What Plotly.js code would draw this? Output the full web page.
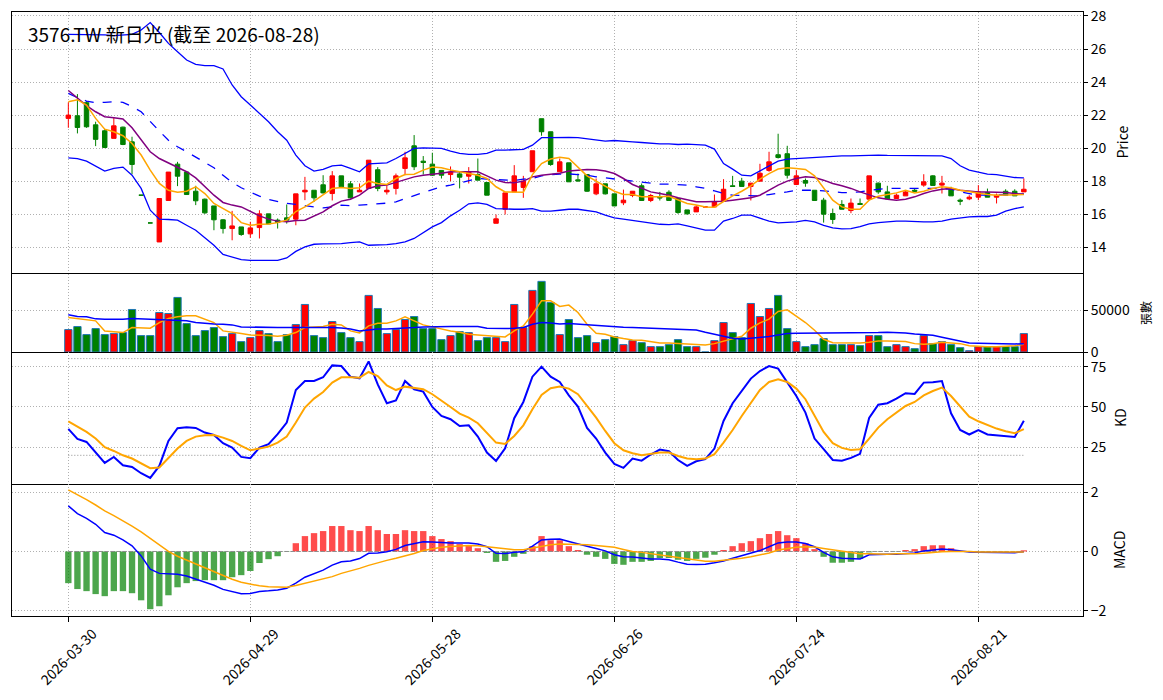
<!DOCTYPE html>
<html>
<head>
<meta charset="utf-8">
<script src="https://cdn.plot.ly/plotly-3.0.1.min.js"></script>
<style>
html,body{margin:0;padding:0;background:#fff;}
#chart{width:1163px;height:700px;}
</style>
</head>
<body>
<div id="chart"></div>
<script>
const dates = ['2026-03-30','2026-03-31','2026-04-01','2026-04-02','2026-04-07','2026-04-08','2026-04-09','2026-04-10','2026-04-13','2026-04-14',
'2026-04-15','2026-04-16','2026-04-17','2026-04-20','2026-04-21','2026-04-22','2026-04-23','2026-04-24','2026-04-27','2026-04-28',
'2026-04-29','2026-04-30','2026-05-04','2026-05-05','2026-05-06','2026-05-07','2026-05-08','2026-05-11','2026-05-12','2026-05-13',
'2026-05-14','2026-05-15','2026-05-18','2026-05-19','2026-05-20','2026-05-21','2026-05-22','2026-05-25','2026-05-26','2026-05-27',
'2026-05-28','2026-05-29','2026-06-01','2026-06-02','2026-06-03','2026-06-04','2026-06-05','2026-06-08','2026-06-09','2026-06-10',
'2026-06-11','2026-06-12','2026-06-15','2026-06-16','2026-06-17','2026-06-18','2026-06-22','2026-06-23','2026-06-24','2026-06-25',
'2026-06-26','2026-06-29','2026-06-30','2026-07-01','2026-07-02','2026-07-03','2026-07-06','2026-07-07','2026-07-08','2026-07-09',
'2026-07-10','2026-07-13','2026-07-14','2026-07-15','2026-07-16','2026-07-17','2026-07-20','2026-07-21','2026-07-22','2026-07-23',
'2026-07-24','2026-07-27','2026-07-28','2026-07-29','2026-07-30','2026-07-31','2026-08-03','2026-08-04','2026-08-05','2026-08-06',
'2026-08-07','2026-08-10','2026-08-11','2026-08-12','2026-08-13','2026-08-14','2026-08-17','2026-08-18','2026-08-19','2026-08-20',
'2026-08-21','2026-08-24','2026-08-25','2026-08-26','2026-08-27','2026-08-28'];

const openPrice = [21.8,21.96,22.75,21.41,21.05,20.59,21.27,20.38,17.15,15.47,
14.32,16.83,19.03,18.55,17.39,16.91,16.5,15.66,15.13,15.23,
14.81,15.19,16.02,15.64,15.78,15.7,17.35,17.45,17.78,17.25,
18.32,17.84,17.35,17.56,18.69,17.35,17.56,18.77,20.14,19.21,
19.03,18.65,18.4,18.44,18.3,18.4,17.92,15.45,16.3,17.35,
17.62,18.57,21.78,20.99,18.57,19.11,18.08,18.4,17.23,17.84,
17.23,16.69,17.13,17.72,16.83,17.03,17.33,16.95,16.26,16.14,
16.44,16.44,16.79,17.72,18.0,17.68,18.0,18.65,19.6,19.66,
17.8,18.04,17.45,16.85,16.04,16.59,16.22,16.65,16.91,17.88,
17.35,16.95,17.11,17.45,17.76,18.32,17.76,17.51,16.85,16.93,
17.03,17.31,17.03,17.39,17.39,17.35];
const highPrice = [22.77,23.27,22.85,21.6,21.15,21.84,21.3,20.69,17.15,15.47,
16.95,18.55,19.17,18.6,17.72,16.95,16.5,15.7,16.2,15.23,
15.54,16.24,16.02,15.74,16.59,17.23,18.26,17.45,18.36,18.61,
18.32,18.0,17.86,19.27,18.85,17.76,18.46,19.78,20.79,19.52,
19.72,18.65,18.89,18.57,18.85,19.37,17.92,15.98,17.29,18.97,
18.32,19.84,21.78,20.99,19.37,19.11,18.46,18.4,18.16,17.84,
17.23,17.49,17.39,17.86,17.23,17.35,17.45,17.01,16.26,16.55,
16.44,17.19,18.12,18.32,18.2,17.88,19.05,19.78,20.87,20.14,
18.67,18.16,17.45,16.99,16.34,16.85,16.95,16.95,18.32,17.92,
17.72,17.25,17.43,17.55,18.42,18.36,18.32,17.66,16.95,17.15,
17.76,17.55,17.25,17.51,17.51,18.16];
const lowPrice = [21.23,20.89,21.23,20.12,20.0,20.59,20.18,18.42,17.15,15.47,
14.32,16.83,17.7,17.19,16.55,16.02,15.03,14.83,14.42,14.69,
14.57,14.53,15.41,15.13,15.43,15.33,16.85,16.75,17.25,16.83,
17.66,16.95,17.35,17.56,17.39,17.19,17.19,18.36,18.67,18.4,
18.32,18.16,18.0,17.56,17.86,18.06,17.15,15.45,15.98,17.35,
16.99,18.57,20.75,18.93,18.57,17.96,17.96,17.35,17.15,17.19,
16.5,16.55,17.03,16.83,16.73,16.83,16.83,16.02,15.98,16.14,
16.44,16.44,16.79,17.68,17.68,16.83,18.0,18.57,19.37,18.16,
17.76,17.66,16.83,15.49,15.41,16.3,16.06,16.59,16.83,17.23,
16.93,16.95,17.11,17.35,17.66,17.74,17.25,17.11,16.55,16.85,
16.85,17.03,16.65,17.11,17.11,17.35];
const closePrice = [22.0,21.25,21.29,20.53,20.04,21.35,20.22,19.01,17.15,15.47,
16.95,18.55,18.3,17.19,16.81,16.08,15.66,15.13,15.29,14.77,
15.17,16.02,15.41,15.5,15.64,17.23,17.45,16.99,17.29,18.32,
17.66,16.99,17.45,19.27,17.56,17.45,18.32,19.41,18.87,19.13,
18.36,18.36,18.55,18.24,18.57,18.06,17.15,15.72,17.29,18.32,
18.0,19.84,20.99,19.01,19.17,17.96,18.02,17.39,17.84,17.23,
16.5,16.85,17.39,16.83,17.13,16.99,16.83,16.1,16.02,16.44,
16.44,16.75,17.51,17.68,17.68,17.88,18.48,19.17,19.43,18.36,
18.32,17.88,16.83,16.0,15.68,16.3,16.67,16.59,18.32,17.35,
16.93,17.15,17.35,17.39,17.96,17.74,17.88,17.11,16.79,17.03,
17.35,17.03,17.15,17.15,17.11,17.51];

const volume = [26800,30400,20800,28000,20800,22000,23200,50800,19600,19600,
47200,46000,65200,34000,19600,25600,29200,18400,22000,12400,
17200,25600,22000,12400,20800,32800,56800,19600,17200,36400,
23200,17200,12400,67600,52000,22000,26800,38800,42400,28000,
28000,14800,19600,24400,23200,13600,17200,17200,12400,56800,
29200,73600,84400,59200,20800,38800,17200,19600,11200,14800,
18400,8800,13600,11200,6400,6400,8800,14800,6400,6400,
0,13600,35200,23200,17200,58000,42400,52000,67600,28000,
12400,6400,8800,16000,8800,8800,8800,7600,19600,19600,
6400,8800,6400,4000,19600,10000,12400,8800,5200,1600,
6400,6400,6400,6400,6400,22000];

const ma5 = [22.81,22.93,22.61,21.8,21.15,20.99,20.75,20.28,19.58,18.67,
17.86,17.45,17.33,17.39,17.66,17.25,16.65,16.34,16.04,15.49,
15.33,15.39,15.41,15.49,15.64,16.16,16.44,16.79,17.19,17.56,
17.62,17.56,17.6,18.0,17.86,17.8,18.16,18.4,18.42,18.67,
18.85,18.81,18.67,18.57,18.44,18.36,18.16,17.66,17.35,17.35,
17.33,18.4,19.07,19.34,19.45,19.37,18.87,18.32,18.0,17.72,
17.39,17.19,17.19,17.05,17.03,17.05,17.09,16.85,16.65,16.55,
16.44,16.42,16.79,17.11,17.39,17.72,18.12,18.46,18.73,18.81,
18.77,18.71,18.32,17.56,16.85,16.44,16.3,16.3,16.85,17.09,
17.19,17.29,17.45,17.29,17.39,17.56,17.66,17.6,17.45,17.35,
17.25,17.19,17.15,17.15,17.15,17.19];
const ma10 = [23.49,23.05,22.57,22.2,21.9,21.84,21.76,21.23,20.48,19.78,
19.37,19.11,18.87,18.57,18.2,17.66,17.15,16.71,16.55,16.44,
16.18,15.9,15.7,15.58,15.54,15.62,15.64,15.9,16.14,16.51,
16.79,16.91,17.15,17.56,17.72,17.76,17.92,18.12,18.26,18.36,
18.4,18.48,18.57,18.57,18.61,18.57,18.32,18.06,17.92,17.9,
18.0,18.26,18.36,18.4,18.48,18.61,18.67,18.71,18.69,18.61,
18.46,18.16,17.8,17.56,17.35,17.25,17.15,16.99,16.85,16.75,
16.75,16.75,16.79,16.85,16.91,16.99,17.15,17.45,17.76,18.0,
18.16,18.26,18.22,18.06,17.86,17.72,17.56,17.35,17.15,16.99,
16.91,16.85,16.91,17.05,17.25,17.41,17.51,17.56,17.45,17.39,
17.35,17.35,17.35,17.31,17.25,17.21];
const ma20 = [23.31,23.05,22.85,22.75,22.77,22.81,22.77,22.51,22.2,21.6,
21.03,20.48,20.08,19.78,19.47,19.17,18.81,18.36,17.92,17.6,
17.35,17.09,16.89,16.75,16.65,16.6,16.51,16.44,16.38,16.44,
16.55,16.51,16.55,16.59,16.61,16.67,16.75,16.95,17.15,17.31,
17.49,17.66,17.76,17.9,18.06,18.16,18.12,18.1,18.06,18.04,
18.12,18.16,18.32,18.4,18.42,18.44,18.4,18.36,18.26,18.2,
18.12,18.06,18.0,17.92,17.86,17.82,17.82,17.8,17.76,17.66,
17.56,17.41,17.25,17.15,17.13,17.11,17.11,17.19,17.25,17.35,
17.45,17.47,17.45,17.41,17.35,17.31,17.31,17.35,17.45,17.51,
17.56,17.56,17.56,17.56,17.56,17.56,17.56,17.51,17.35,17.25,
17.15,17.15,17.15,17.15,17.19,17.25];
const bbUpper = [26.89,26.89,26.85,26.85,26.85,26.81,26.85,26.89,27.15,27.6,
27.0,26.34,25.84,25.33,25.07,24.99,24.99,24.79,23.82,23.11,
22.61,22.1,21.6,20.99,20.48,19.58,18.93,18.61,18.71,18.93,
18.97,18.77,18.57,19.05,19.07,19.11,19.37,19.68,19.98,20.02,
20.02,19.98,19.82,19.68,19.62,19.62,19.68,19.88,19.88,19.88,
19.92,20.18,20.63,20.63,20.65,20.65,20.63,20.55,20.48,20.42,
20.46,20.44,20.38,20.34,20.28,20.26,20.26,20.22,20.24,20.22,
20.18,19.94,19.07,18.73,18.36,18.32,18.61,18.93,19.21,19.33,
19.37,19.41,19.45,19.47,19.51,19.53,19.53,19.56,19.58,19.58,
19.56,19.56,19.56,19.56,19.56,19.56,19.53,19.37,18.93,18.67,
18.53,18.42,18.4,18.32,18.22,18.2];
const bbLower = [19.41,19.37,19.21,18.93,18.61,18.77,18.85,18.36,17.56,16.24,
15.7,15.68,15.64,15.33,15.03,14.57,14.12,13.56,13.41,13.25,
13.21,13.21,13.21,13.21,13.35,13.75,14.02,14.18,14.2,14.2,
14.22,14.28,14.32,14.12,14.12,14.16,14.22,14.32,14.53,14.89,
15.23,15.49,15.9,16.24,16.63,16.69,16.59,16.34,16.3,16.3,
16.3,16.34,16.18,16.18,16.24,16.3,16.3,16.22,16.14,15.94,
15.78,15.7,15.62,15.54,15.43,15.39,15.37,15.41,15.29,15.17,
15.03,15.03,15.58,15.74,15.94,15.94,15.78,15.58,15.47,15.49,
15.54,15.62,15.54,15.33,15.17,15.11,15.13,15.25,15.41,15.49,
15.54,15.58,15.58,15.54,15.54,15.54,15.58,15.7,15.78,15.84,
15.86,15.86,15.94,16.18,16.34,16.44];

const volMa5 = [41200,39600,38400,37200,25200,24400,23200,29200,28400,28400,
35200,40000,42000,43200,43200,39200,35200,25200,23200,22000,
20400,20400,19600,18800,20000,23200,29200,30000,30400,33200,
32400,25200,22800,31200,34400,34400,37200,42000,37200,32400,
30000,27200,25200,23600,21200,20400,19600,19200,18000,25200,
31200,45200,61200,61200,54400,56000,47200,33200,22400,21200,
18000,16000,14400,14000,12400,10800,10800,10400,10000,9200,
8400,10000,13200,16400,18800,28400,34800,39200,48400,50400,
42800,35200,26000,15200,11200,10800,10800,10800,11600,13200,
13200,12800,12400,10000,9200,10000,11600,10800,10000,7600,
6800,6400,6400,6800,7600,9200];
const volMa20 = [44400,42400,42000,39600,39200,38800,39200,40000,39600,39200,
39200,38800,38400,37200,35200,34000,33600,33200,32400,30000,
29600,29600,29600,29200,29200,29200,30000,30000,29200,29200,
28800,27600,25200,26800,27600,27600,28000,28000,29200,30000,
30400,30400,30400,30400,30800,30400,28400,28000,28000,28400,
29200,33200,35200,34800,33600,34000,33200,32000,31200,30400,
30000,29600,29200,28800,28400,28000,27600,27200,26800,26400,
23600,21200,18800,16400,15600,16400,17200,18400,20400,22000,
22400,22400,22400,22400,22400,22400,22400,22400,22800,23200,
23600,23600,22800,21600,20800,20000,17600,15200,12400,10800,
10400,10000,10000,9600,9600,10000];

const kValues = [36.4,30.2,28.3,21.7,15.3,19.0,13.8,12.8,8.9,6.0,
13.4,28.9,36.8,37.4,37.0,34.1,32.6,27.5,24.8,19.0,
18.2,24.8,26.9,33.1,40.3,60.5,66.1,66.1,68.4,75.8,
75.4,68.8,67.8,78.3,64.0,52.3,54.1,66.1,61.0,59.5,
50.0,44.4,42.4,38.2,38.6,31.6,21.7,16.5,24.4,43.0,
53.1,68.8,75.0,68.8,65.5,57.2,50.2,37.0,30.4,21.7,
14.7,12.2,18.0,16.7,20.5,23.6,22.5,17.1,13.4,16.3,
17.6,24.2,41.3,52.3,59.9,67.6,72.3,75.4,73.8,65.1,
56.8,46.5,30.4,23.8,17.1,16.7,18.4,20.9,43.2,51.4,
52.3,55.2,58.5,58.1,65.1,65.3,66.1,46.1,35.7,32.9,
35.7,32.9,32.4,31.8,31.4,41.5];
const dValues = [41.1,37.8,34.5,30.4,25.0,22.7,20.0,18.0,15.1,12.0,
12.4,18.0,24.2,28.9,31.6,32.4,32.6,31.0,28.9,25.8,
23.1,24.2,25.4,27.9,31.6,40.3,49.6,55.2,59.3,65.1,
68.4,68.4,68.2,71.7,69.2,63.4,60.5,62.6,62.0,61.0,
57.9,53.7,50.0,45.9,43.4,39.9,34.1,27.9,27.1,32.0,
38.6,48.6,57.4,61.6,62.7,61.4,57.9,50.6,43.4,35.1,
27.5,23.1,21.3,20.0,20.7,21.7,21.7,19.6,18.0,17.6,
18.0,20.7,27.9,35.7,44.4,52.7,60.5,65.5,67.1,65.5,
61.4,54.8,44.4,34.5,27.5,24.6,23.3,23.8,30.4,37.2,
42.4,46.5,50.6,53.1,57.2,59.9,62.0,56.8,50.2,44.0,
41.1,38.6,36.6,34.9,33.7,36.2];
const kdLevels = [20, 80];

const difValues = [1.54,1.28,1.12,0.92,0.64,0.55,0.39,0.19,-0.15,-0.60,
-0.74,-0.75,-0.77,-0.83,-0.94,-1.04,-1.14,-1.28,-1.35,-1.43,
-1.42,-1.35,-1.33,-1.30,-1.24,-1.07,-0.87,-0.74,-0.63,-0.46,
-0.35,-0.32,-0.24,-0.06,-0.05,-0.01,0.07,0.20,0.27,0.33,
0.32,0.30,0.29,0.29,0.29,0.25,0.16,-0.06,-0.07,-0.03,
-0.01,0.18,0.39,0.41,0.42,0.34,0.27,0.18,0.10,0.02,
-0.11,-0.18,-0.19,-0.23,-0.25,-0.25,-0.28,-0.36,-0.43,-0.44,
-0.43,-0.38,-0.32,-0.23,-0.15,-0.07,0.03,0.16,0.29,0.32,
0.32,0.27,0.16,-0.03,-0.18,-0.23,-0.24,-0.25,-0.11,-0.09,
-0.09,-0.09,-0.08,-0.05,0.02,0.06,0.08,0.06,0.02,-0.02,
-0.03,-0.03,-0.04,-0.04,-0.04,-0.01];
const signalValues = [2.08,1.92,1.75,1.57,1.37,1.21,1.04,0.86,0.66,0.44,
0.19,0.0,-0.16,-0.29,-0.43,-0.56,-0.69,-0.82,-0.94,-1.04,
-1.10,-1.16,-1.19,-1.21,-1.21,-1.15,-1.08,-1.01,-0.94,-0.85,
-0.74,-0.66,-0.57,-0.47,-0.38,-0.30,-0.23,-0.16,-0.07,0.03,
0.09,0.14,0.17,0.19,0.20,0.19,0.16,0.11,0.08,0.06,
0.06,0.11,0.18,0.23,0.25,0.25,0.25,0.23,0.20,0.18,
0.14,0.07,0.0,-0.03,-0.08,-0.11,-0.16,-0.20,-0.25,-0.29,
-0.33,-0.33,-0.30,-0.27,-0.23,-0.18,-0.11,-0.05,0.05,0.10,
0.14,0.16,0.15,0.10,0.05,0.0,-0.05,-0.08,-0.08,-0.09,
-0.09,-0.08,-0.09,-0.08,-0.06,-0.03,-0.01,0.0,0.01,0.0,
-0.02,-0.02,-0.03,-0.03,-0.03,-0.02];
const histValues = [-1.07,-1.27,-1.34,-1.44,-1.51,-1.34,-1.34,-1.41,-1.65,-1.95,
-1.85,-1.48,-1.21,-1.07,-1.0,-0.97,-0.97,-0.97,-0.87,-0.80,
-0.66,-0.39,-0.26,-0.16,-0.01,0.28,0.52,0.62,0.69,0.86,
0.86,0.72,0.69,0.86,0.72,0.59,0.59,0.72,0.69,0.69,
0.52,0.42,0.35,0.25,0.21,0.11,-0.05,-0.35,-0.32,-0.18,
-0.08,0.18,0.52,0.38,0.38,0.18,0.05,-0.11,-0.18,-0.25,
-0.42,-0.45,-0.35,-0.35,-0.32,-0.22,-0.22,-0.28,-0.32,-0.25,
-0.21,-0.11,0.05,0.18,0.28,0.35,0.45,0.59,0.69,0.55,
0.45,0.28,0.08,-0.18,-0.38,-0.38,-0.35,-0.25,-0.03,-0.01,
0.0,-0.01,0.05,0.08,0.18,0.21,0.21,0.11,0.01,-0.01,
-0.01,-0.01,-0.01,-0.01,-0.01,0.04];

const tickDates = ['2026-03-30','2026-04-29','2026-05-28','2026-06-26','2026-07-24','2026-08-21'];
const titleText = '3576.TW 新日光 (截至 2026-08-28)';

const FONT = '"Noto Sans CJK TC", "Noto Sans", sans-serif';
const UP = '#ff0000', DOWN = '#008000';
const volColors = closePrice.map((c, i) => c > openPrice[i] ? UP : DOWN);
const histColors = histValues.map(v => v >= 0 ? 'rgba(255,0,0,0.7)' : 'rgba(0,128,0,0.7)');

const line = (y, color, xa, ya, width, dash) => ({
  type: 'scatter', mode: 'lines', x: dates, y: y, xaxis: xa, yaxis: ya,
  line: {color: color, width: width || 1.5, dash: dash || 'solid'}, hoverinfo: 'skip'
});

const traces = [
  {
    type: 'candlestick', x: dates, open: openPrice, high: highPrice, low: lowPrice, close: closePrice,
    xaxis: 'x', yaxis: 'y',
    increasing: {line: {color: UP, width: 1}, fillcolor: UP},
    decreasing: {line: {color: DOWN, width: 1}, fillcolor: DOWN},
    whiskerwidth: 0, hoverinfo: 'skip'
  },
  line(bbUpper, '#0000ff', 'x', 'y', 1.3),
  line(bbLower, '#0000ff', 'x', 'y', 1.3),
  line(ma20, '#0000ff', 'x', 'y', 1.3, 'dash'),
  line(ma10, '#800080', 'x', 'y', 1.5),
  line(ma5, '#ffa500', 'x', 'y', 1.5),
  {
    type: 'bar', x: dates, y: volume, xaxis: 'x2', yaxis: 'y2', width: 0.8,
    marker: {color: volColors, line: {color: '#1f77b4', width: 1}}, hoverinfo: 'skip'
  },
  line(volMa5, '#ffa500', 'x2', 'y2', 1.5),
  line(volMa20, '#0000ff', 'x2', 'y2', 1.5),
  line(dates.map(() => kdLevels[0]), '#8c8c8c', 'x3', 'y3', 1, '1px,2px'),
  line(dates.map(() => kdLevels[1]), '#8c8c8c', 'x3', 'y3', 1, '1px,2px'),
  line(kValues, '#0000ff', 'x3', 'y3', 2),
  line(dValues, '#ffa500', 'x3', 'y3', 2),
  {
    type: 'bar', x: dates, y: histValues, xaxis: 'x4', yaxis: 'y4', width: 0.7,
    marker: {color: histColors, line: {width: 0}}, hoverinfo: 'skip'
  },
  line(dates.map(() => 0), '#8c8c8c', 'x4', 'y4', 1, '4px,2px'),
  line(difValues, '#0000ff', 'x4', 'y4', 1.5),
  line(signalValues, '#ffa500', 'x4', 'y4', 1.5)
];

const GRID = {showgrid: true, gridcolor: '#b0b0b0', griddash: '1px,2px', gridwidth: 1};
const xRange = [-6.19, 111.5];
const xBase = (anchor, extra) => Object.assign({
  type: 'category', domain: [0, 1], anchor: anchor, range: xRange,
  categoryorder: 'array', categoryarray: dates,
  tickvals: tickDates, showticklabels: false,
  showline: true, mirror: false, linecolor: '#000', linewidth: 1,
  ticks: '', zeroline: false, fixedrange: true
}, GRID, extra || {});
const yBase = (anchor, domain, range, tickvals, ticktext) => Object.assign({
  domain: domain, anchor: anchor, side: 'right', range: range,
  tickvals: tickvals, ticktext: ticktext,
  ticks: 'outside', ticklen: 4, tickcolor: '#000',
  tickfont: {family: FONT, size: 14, color: '#000'},
  showline: true, mirror: true, linecolor: '#000', linewidth: 1,
  zeroline: false, fixedrange: true
}, GRID);

const L = 12, R = 1083, T = 12, B = 616;
const px = x => (x - L) / (R - L);
const py = y => (B - y) / (B - T);

const yTitle = (text, x, y, size) => ({
  text: text, xref: 'paper', yref: 'paper', x: px(x), y: py(y), textangle: -90,
  xanchor: 'center', yanchor: 'middle', showarrow: false,
  font: {family: FONT, size: size, color: '#000'}
});
const annotations = [
  {text: titleText, xref: 'paper', yref: 'paper', x: px(26), y: py(33), xanchor: 'left', yanchor: 'middle',
   showarrow: false, font: {family: FONT, size: 19, color: '#000'}},
  yTitle('Price', 1122, 142.5, 14),
  yTitle('張數', 1145, 313, 12),
  yTitle('KD', 1120, 418, 14),
  yTitle('MACD', 1119, 550, 14)
];
tickDates.forEach(d => annotations.push({
  text: d, xref: 'x4', yref: 'paper', x: d, y: py(656), textangle: -45,
  xanchor: 'center', yanchor: 'middle', showarrow: false,
  font: {family: FONT, size: 14, color: '#000'}
}));

const layout = {
  width: 1163, height: 700,
  margin: {l: L, r: 1163 - R, t: T, b: 700 - B, pad: 0},
  paper_bgcolor: '#fff', plot_bgcolor: '#fff',
  showlegend: false, hovermode: false,
  font: {family: FONT, size: 14, color: '#000'},
  xaxis: xBase('y', {mirror: true, rangeslider: {visible: false}}),
  xaxis2: xBase('y2', {matches: 'x'}),
  xaxis3: xBase('y3', {matches: 'x'}),
  xaxis4: xBase('y4', {matches: 'x', ticks: 'outside', ticklen: 5, tickcolor: '#000'}),
  yaxis: yBase('x', [py(273), 1], [12.44, 28.24], [14, 16, 18, 20, 22, 24, 26, 28]),
  yaxis2: yBase('x2', [py(352), py(274)], [0, 93200], [0, 50000], ['0', '50000']),
  yaxis3: yBase('x3', [py(484), py(352)], [2.2, 84.1], [25, 50, 75]),
  yaxis4: yBase('x4', [0, py(484)], [-2.18, 2.28], [-2, 0, 2], ['−2', '0', '2']),
  annotations: annotations
};

Plotly.newPlot('chart', traces, layout, {staticPlot: true, displayModeBar: false});
</script>
</body>
</html>
